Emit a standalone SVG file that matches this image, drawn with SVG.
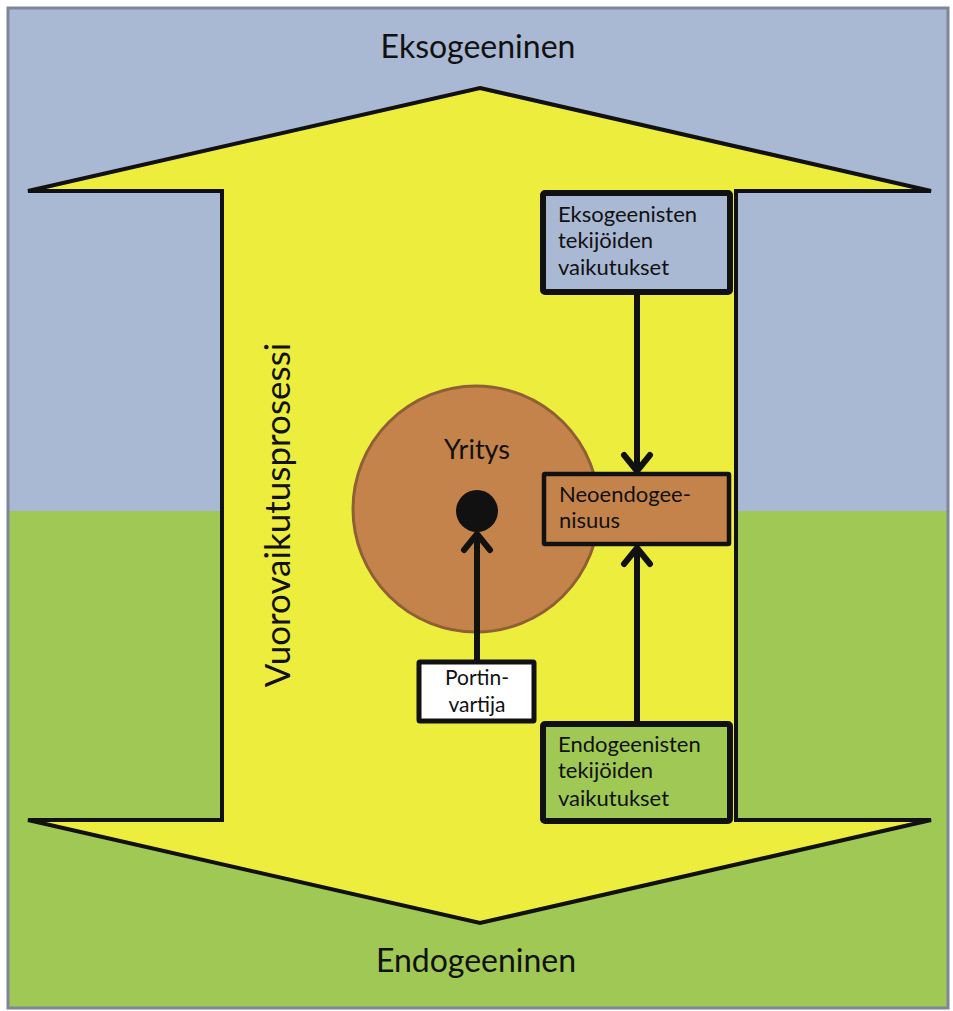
<svg xmlns="http://www.w3.org/2000/svg" width="953" height="1011" viewBox="0 0 953 1011">
<defs>
<style>
text{font-family:Lato,"Open Sans","DejaVu Sans",sans-serif;fill:#111}
.big{font-size:32px}
.box{font-size:22px}
.conn{stroke:#111;stroke-width:6;fill:none}
.head{stroke:#111;stroke-width:6;fill:none;stroke-linecap:round;stroke-linejoin:round}
</style>
</defs>
<g id="background">
<rect x="8" y="8" width="940" height="503" fill="#a9b8d3"/>
<rect x="8" y="511" width="940" height="497" fill="#a0c855"/>
<rect x="8" y="8" width="940" height="1000" fill="none" stroke="#7d8799" stroke-width="3"/>
</g>
<g id="bigarrow">
<polygon points="480,88 931,191 736,191 736,820 931,820 480,923 28,820 222,820 222,191 28,191" fill="#eded3d" stroke="#111" stroke-width="4" stroke-linejoin="miter"/>
</g>
<g id="labels">
<text class="big" x="478" y="58" text-anchor="middle">Eksogeeninen</text>
<text class="big" x="476" y="972" text-anchor="middle">Endogeeninen</text>
<text x="0" y="0" font-size="35" text-anchor="middle" transform="translate(290,515) rotate(-90)">Vuorovaikutusprosessi</text>
</g>
<g id="yritys">
<circle cx="476" cy="509" r="123" fill="#c4834a" stroke="#8f5f35" stroke-width="3"/>
<text x="477" y="459" font-size="27" text-anchor="middle">Yritys</text>
<circle cx="477" cy="511" r="21" fill="#111"/>
</g>
<g id="connectors">
<line class="conn" x1="477" y1="662" x2="477" y2="536"/>
<polyline class="head" points="464,550 477,534 490,550"/>
<line class="conn" x1="637" y1="295" x2="637" y2="468"/>
<polyline class="head" points="624,455 637,471 650,455"/>
<line class="conn" x1="637" y1="722" x2="637" y2="551"/>
<polyline class="head" points="624,564 637,548 650,564"/>
</g>
<g id="eksogeenisten">
<rect x="543" y="193" width="187" height="99" fill="#a9b8d3" stroke="#111" stroke-width="6" rx="2"/>
<text class="box" x="558" y="222">Eksogeenisten</text>
<text class="box" x="558" y="248">tekijöiden</text>
<text class="box" x="558" y="275">vaikutukset</text>
</g>
<g id="neoendogeenisuus">
<rect x="544" y="474" width="185" height="70" fill="#c4834a" stroke="#111" stroke-width="4.5" rx="1"/>
<text class="box" x="559" y="502">Neoendogee-</text>
<text class="box" x="559" y="528">nisuus</text>
</g>
<g id="portinvartija">
<rect x="419" y="662" width="115" height="59" fill="#fff" stroke="#111" stroke-width="5" rx="1"/>
<text x="477" y="685" font-size="21" text-anchor="middle">Portin-</text>
<text x="477" y="712" font-size="21" text-anchor="middle">vartija</text>
</g>
<g id="endogeenisten">
<rect x="543" y="724" width="187" height="97" fill="#a0c855" stroke="#111" stroke-width="6" rx="2"/>
<text class="box" x="558" y="752">Endogeenisten</text>
<text class="box" x="558" y="778">tekijöiden</text>
<text class="box" x="558" y="806">vaikutukset</text>
</g>
</svg>
